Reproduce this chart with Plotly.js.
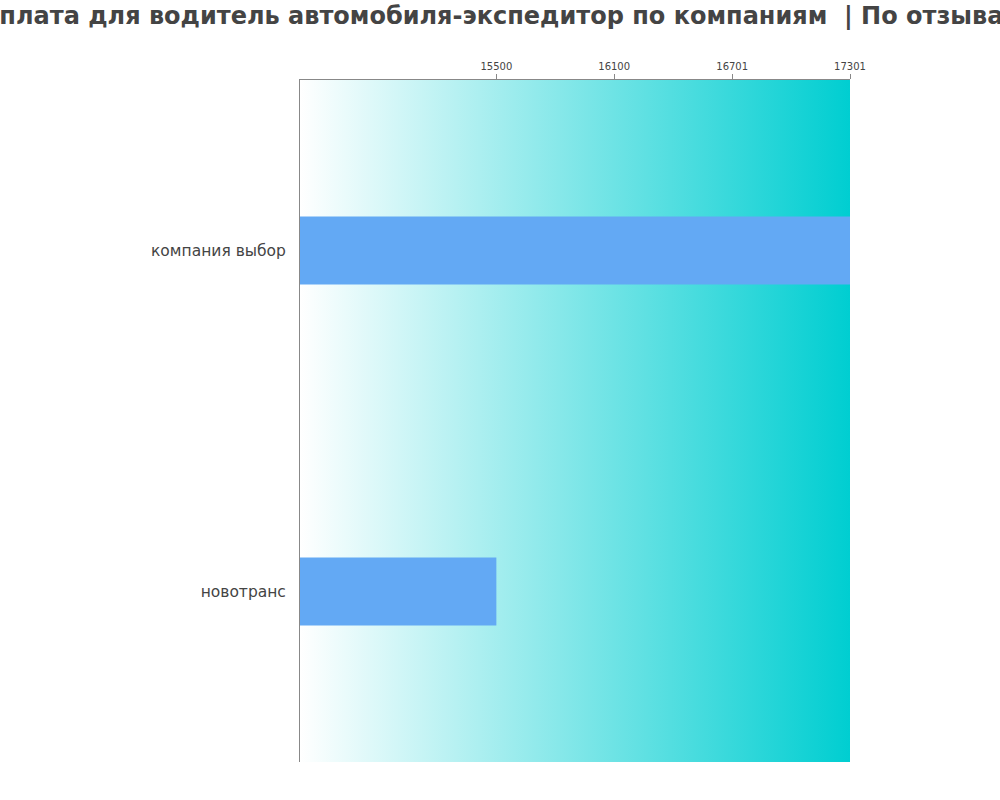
<!DOCTYPE html>
<html>
<head>
<meta charset="utf-8">
<script src="https://cdn.plot.ly/plotly-3.0.1.min.js"></script>
<style>html,body{margin:0;padding:0;background:#fff;}#chart{width:1000px;height:800px;}</style>
</head>
<body>
<div id="chart"></div>
<script>
const companies = ["компания выбор", "новотранс"];
const salaries = [17301, 15500];
const tickValues = [15500, 16100, 16701, 17301];
const tickLabels = ["15500", "16100", "16701", "17301"];
const chartTitle = "Зарплата для водитель автомобиля-экспедитор по компаниям  | По отзывам";

const gradSvg = '<svg xmlns="http://www.w3.org/2000/svg" width="100" height="100" preserveAspectRatio="none">' +
  '<defs><linearGradient id="g" x1="0" y1="0" x2="1" y2="0">' +
  '<stop offset="0" stop-color="#ffffff"/><stop offset="1" stop-color="#00CED1"/>' +
  '</linearGradient></defs><rect width="100" height="100" fill="url(#g)"/></svg>';
const gradUrl = 'data:image/svg+xml;base64,' + btoa(gradSvg);

const trace = {
  type: 'bar',
  orientation: 'h',
  y: companies,
  x: salaries,
  base: 0,
  width: 0.2,
  marker: {color: '#63A9F4'},
  hoverinfo: 'x+y'
};

const layout = {
  width: 1000,
  height: 800,
  margin: {l: 300, r: 150, t: 80, b: 38},
  paper_bgcolor: '#ffffff',
  plot_bgcolor: 'rgba(0,0,0,0)',
  showlegend: false,
  title: {
    text: '<b>' + chartTitle + '</b>',
    x: 0.486, xanchor: 'center',
    y: 0.98, yanchor: 'middle',
    font: {family: 'DejaVu Sans', size: 24, color: '#444444'}
  },
  xaxis: {
    side: 'top',
    range: [14500, 17301],
    tickvals: tickValues,
    ticktext: tickLabels,
    ticks: 'outside',
    ticklen: 5,
    tickcolor: '#888888',
    showgrid: false,
    zeroline: false,
    showline: true,
    linecolor: '#888888',
    linewidth: 1,
    tickfont: {family: 'DejaVu Sans', size: 10, color: '#444444'},
    fixedrange: true
  },
  yaxis: {
    autorange: 'reversed',
    type: 'category',
    showgrid: false,
    zeroline: false,
    showline: true,
    linecolor: '#888888',
    linewidth: 1,
    ticks: '',
    ticklabelstandoff: 10,
    tickfont: {family: 'DejaVu Sans', size: 15.5, color: '#444444'},
    fixedrange: true
  },
  images: [{
    source: gradUrl,
    xref: 'paper', yref: 'paper',
    x: 0, y: 1, sizex: 1, sizey: 1,
    xanchor: 'left', yanchor: 'top',
    sizing: 'stretch',
    layer: 'below'
  }]
};

Plotly.newPlot('chart', [trace], layout, {displayModeBar: false, staticPlot: true});
</script>
</body>
</html>
